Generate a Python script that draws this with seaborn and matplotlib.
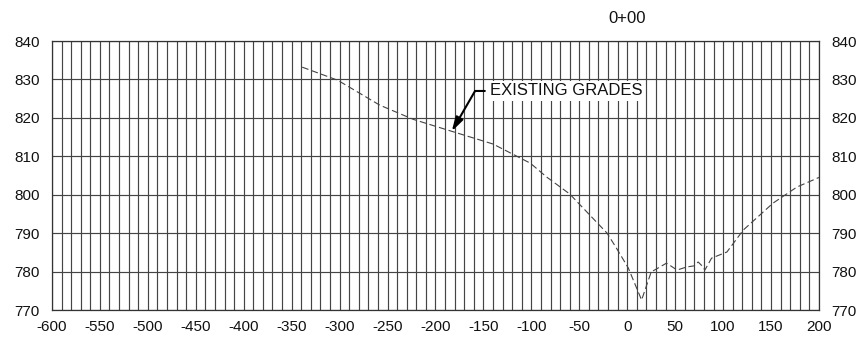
import matplotlib
matplotlib.use("Agg")
import matplotlib.pyplot as plt
import matplotlib.transforms as mtransforms
import seaborn as sns
import pandas as pd
import numpy as np

sns.set_theme(style="white")
plt.rcParams['font.family'] = ['Liberation Sans', 'DejaVu Sans']

# Existing ground profile (station offset, elevation)
station = [-339, -302, -258, -223, -183, -140, -101, -84, -60, -39, -21, -11,
           1, 15, 25, 41, 52, 62, 70, 74, 78, 81, 88, 104, 121, 152, 177, 200]
elevation = [833.2, 829.8, 823.3, 819.6, 816.5, 813.2, 808.2, 804.6, 800.2, 794.7, 790.0, 786.0,
             781.0, 772.6, 779.9, 782.2, 780.4, 781.2, 781.5, 782.5, 781.5, 780.4, 783.5, 785.1,
             790.8, 797.8, 802.0, 804.5]

x_ticks = list(range(-600, 201, 50))
y_ticks = list(range(770, 841, 10))
station_label = "0+00"
annotation_text = "EXISTING GRADES"
annotation_point = (-183, 816.5)

df = pd.DataFrame({"station": station, "elevation": elevation})

fig = plt.figure(figsize=(8.59, 3.39), dpi=100)
ax = fig.add_axes([0.0605, 0.0855, 0.8929, 0.7935])

sns.lineplot(data=df, x="station", y="elevation", ax=ax, color="#444444",
             linewidth=0.8, linestyle=(0, (6, 3)), zorder=3)

ax.set_xlim(-600, 200)
ax.set_ylim(770, 840)
ax.set_xticks(x_ticks)
ax.set_xticklabels([str(v) for v in x_ticks])
ax.set_xticks(np.arange(-600, 201, 10), minor=True)
ax.set_yticks(y_ticks)
ax.grid(True, which="both", axis="x", color="#444444", linewidth=0.85)
ax.grid(True, which="major", axis="y", color="#444444", linewidth=0.85)
ax.tick_params(axis="both", which="both", length=0, labelsize=11, colors="#111111")
ax.tick_params(axis="x", pad=7)
ax.tick_params(axis="y", pad=9, labelright=True, right=False)
ax.set_xlabel("")
ax.set_ylabel("")
for s in ax.spines.values():
    s.set_color("#333333")
    s.set_linewidth(0.9)

trans = mtransforms.blended_transform_factory(ax.transData, fig.transFigure)
ax.text(0, 0.945, station_label, transform=trans, ha="center", va="center",
        fontsize=12, color="#111111")

ax.annotate(annotation_text, xy=annotation_point, xytext=(-143, 827.0),
            ha="left", va="center", fontsize=12, color="#111111",
            bbox=dict(boxstyle="square,pad=0.15", fc="white", ec="none"),
            arrowprops=dict(arrowstyle="-|>,head_length=0.7,head_width=0.2",
                            color="black", linewidth=1.5,
                            connectionstyle="angle,angleA=0,angleB=60,rad=0",
                            shrinkA=2, shrinkB=0),
            zorder=5)

fig.savefig("out.png", dpi=100)
